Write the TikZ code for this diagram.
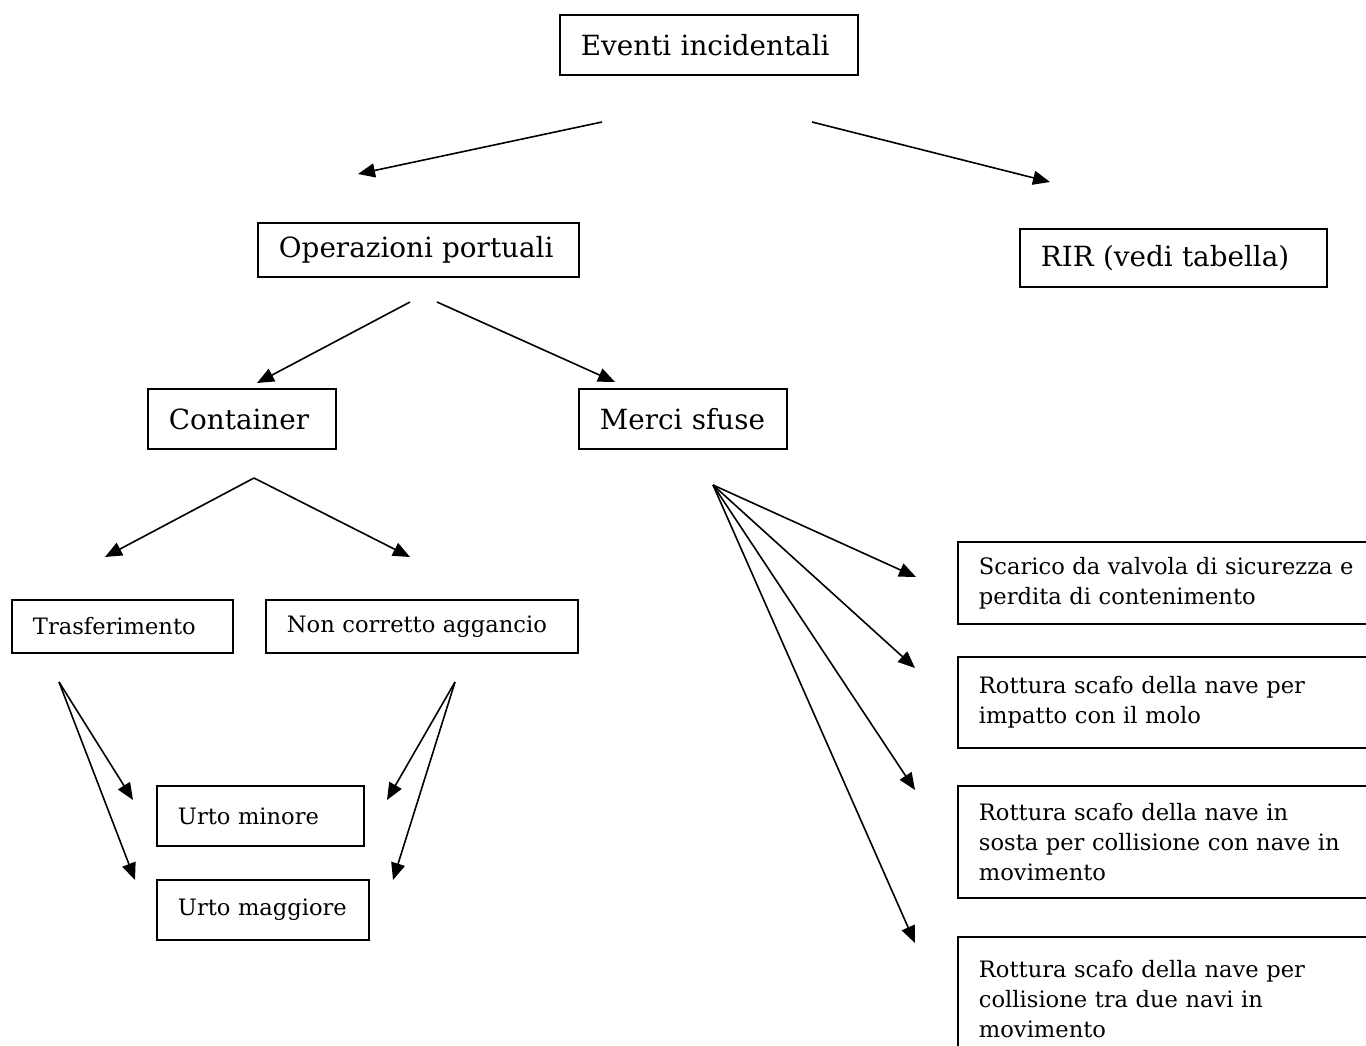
\documentclass[tikz,border=0pt]{standalone}
\usepackage{fontspec}
\setmainfont{DejaVu Serif}
\usetikzlibrary{arrows.meta}
\hyphenpenalty=10000

\begin{document}
\begin{tikzpicture}[
    x=1pt, y=-1pt,
    bigtxt/.style={font=\fontsize{27.8}{32}\selectfont},
    smalltxt/.style={font=\fontsize{22.6}{30}\selectfont},
    box/.style={draw, line width=1.9pt, anchor=north west, inner xsep=21pt,
                inner ysep=0pt, align=left, text width=#1},
    arr/.style={-{Triangle[length=17pt,width=14pt]}, line width=1.6pt},
]
\useasboundingbox (0,0) rectangle (1366,1045);
\clip (0,0) rectangle (1366,1045);

% ---------- boxes ----------
\node[box=256, bigtxt, minimum height=60] (ev)    at (559,14)  {Eventi incidentali};
\node[box=279, bigtxt, minimum height=54] (oper)  at (257,222) {Operazioni portuali};
\node[box=265, bigtxt, minimum height=58] (rir)   at (1019,228) {RIR (vedi tabella)};
\node[box=146, bigtxt, minimum height=60] (cont)  at (147,388) {Container};
\node[box=166, bigtxt, minimum height=60] (merci) at (578,388) {Merci sfuse};

\node[box=179, smalltxt, minimum height=53] (trasf)    at (11,599)  {Trasferimento};
\node[box=270, smalltxt, minimum height=53] (aggancio) at (265,599) {Non corretto aggancio};
\node[box=165, smalltxt, minimum height=60] (urtomin)  at (156,785) {Urto minore};
\node[box=170, smalltxt, minimum height=60] (urtomag)  at (156,879) {Urto maggiore};

% right column, cut by the page edge
\node[box=410, smalltxt, minimum height=82]  (scarico) at (957,541)
  {Scarico da valvola di sicurezza e\\perdita di contenimento};
\node[box=410, smalltxt, minimum height=91]  (impatto) at (957,656)
  {Rottura scafo della nave per\\impatto con il molo};
\node[box=410, smalltxt, minimum height=112] (sosta)   at (957,785)
  {Rottura scafo della nave in\\sosta per collisione con nave in\\movimento};
\node[box=410, smalltxt, minimum height=124] (collis)  at (957,936)
  {Rottura scafo della nave per\\collisione tra due navi in\\movimento};

% ---------- arrow ends ----------
\coordinate (ev-l) at (602,122);
\coordinate (ev-r) at (812,122);
\coordinate (oper-in) at (358,174);
\coordinate (rir-in) at (1050,182);
\coordinate (oper-l) at (410,302);
\coordinate (oper-r) at (437,302);
\coordinate (cont-in) at (257,383);
\coordinate (merci-in) at (615,382);
\coordinate (cont-out) at (254,478);
\coordinate (trasf-in) at (105,557);
\coordinate (aggancio-in) at (410,557);
\coordinate (merci-out) at (713,485);
\coordinate (scarico-in) at (916,577);
\coordinate (impatto-in) at (915,668);
\coordinate (sosta-in) at (915,790);
\coordinate (collis-in) at (915,943);
\coordinate (trasf-out) at (59,682);
\coordinate (aggancio-out) at (455,682);
\coordinate (urtomin-l) at (133,800);
\coordinate (urtomag-l) at (135,880);
\coordinate (urtomin-r) at (387,800);
\coordinate (urtomag-r) at (393,880);

% ---------- arrows ----------
\draw[arr] (ev-l) -- (oper-in);
\draw[arr] (ev-r) -- (rir-in);
\draw[arr] (oper-l) -- (cont-in);
\draw[arr] (oper-r) -- (merci-in);
\draw[arr] (cont-out) -- (trasf-in);
\draw[arr] (cont-out) -- (aggancio-in);
\foreach \t in {scarico-in, impatto-in, sosta-in, collis-in}
  \draw[arr] (merci-out) -- (\t);
\draw[arr] (trasf-out) -- (urtomin-l);
\draw[arr] (trasf-out) -- (urtomag-l);
\draw[arr] (aggancio-out) -- (urtomin-r);
\draw[arr] (aggancio-out) -- (urtomag-r);

\end{tikzpicture}
\end{document}
